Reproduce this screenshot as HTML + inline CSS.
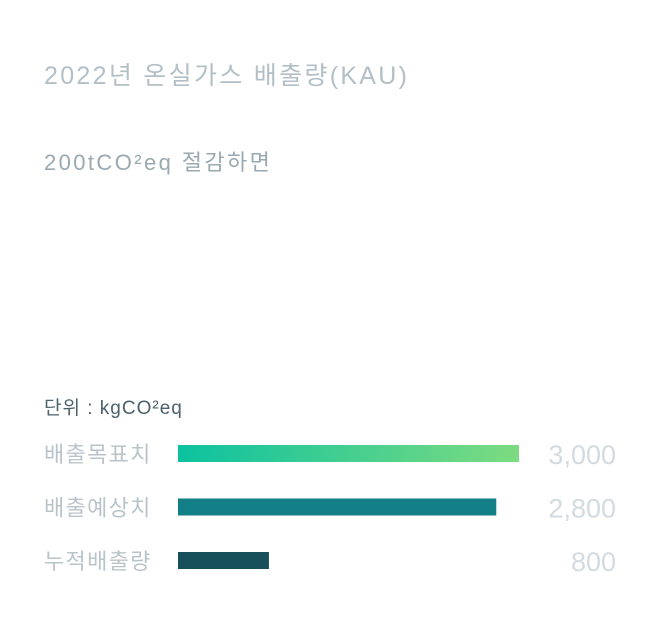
<!DOCTYPE html>
<html><head><meta charset="utf-8"><style>
body{margin:0;width:660px;height:630px;background:#fff;font-family:"Liberation Sans","Noto Sans CJK KR",sans-serif;position:relative;overflow:hidden}
.t{position:absolute;white-space:nowrap}
</style></head><body>
<div class="t" style="left:44px;top:56px;font-size:25px;letter-spacing:2.3px;color:#b3bfc6">2022년 온실가스 배출량(KAU)</div>
<div class="t" style="left:44px;top:145px;font-size:22px;letter-spacing:2.4px;color:#9aa9b1">200tCO²eq 절감하면</div>
<div class="t" style="left:44px;top:393px;font-size:19px;letter-spacing:1px;color:#4b616c">단위 : kgCO²eq</div>
<svg id="chart" width="660" height="630" style="position:absolute;left:0;top:0">
<defs><linearGradient id="g1" x1="0" x2="1"><stop offset="0" stop-color="#0cc2a0"/><stop offset="1" stop-color="#7ddb80"/></linearGradient></defs>
</svg>
<script>
const categories=["배출목표치","배출예상치","누적배출량"];
const values=[3000,2800,800];
const valueLabels=["3,000","2,800","800"];
const fills=["url(#g1)","#127e85","#17505b"];
const svg=document.getElementById('chart');
const NS="http://www.w3.org/2000/svg";
const x0=178,xMax=3000,wMax=341;
function xs(v){return v/xMax*wMax;}
function yRow(i){return 445+i*53.5;}
categories.forEach((c,i)=>{
 const y=yRow(i);
 const lab=document.createElementNS(NS,'text');
 lab.setAttribute('x',44);lab.setAttribute('y',y+17);lab.setAttribute('font-size','22');lab.setAttribute('letter-spacing','1.3');lab.setAttribute('fill','#b9c4ca');
 lab.textContent=c;
 
 
 svg.appendChild(lab);
 const r=document.createElementNS(NS,'rect');
 r.setAttribute('x',x0);r.setAttribute('y',y);r.setAttribute('width',xs(values[i]));r.setAttribute('height',17);r.setAttribute('fill',fills[i]);
 
 
 svg.appendChild(r);
 const v=document.createElementNS(NS,'text');
 v.setAttribute('x',616);v.setAttribute('y',y+19);v.setAttribute('font-size','27');v.setAttribute('fill','#d3dbe0');v.setAttribute('text-anchor','end');
 v.textContent=valueLabels[i];
 
 
 svg.appendChild(v);
});
</script>
</body></html>
